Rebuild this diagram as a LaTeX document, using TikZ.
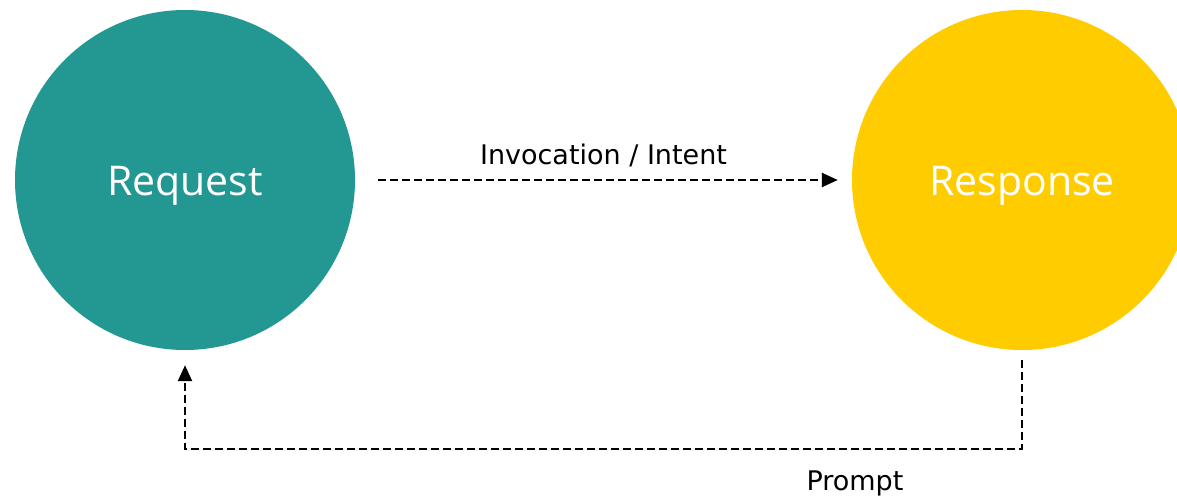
\documentclass[tikz,border=0pt]{standalone}
\usepackage{fontspec}
\setmainfont{DejaVu Sans}
\newfontfamily\circlefont{Open Sans}
\usetikzlibrary{arrows.meta}
\definecolor{reqteal}{HTML}{239893}
\definecolor{respyellow}{HTML}{FFCC00}
\tikzset{
  stage/.style={circle, minimum size=340pt, inner sep=0pt, draw=none,
    text=white, font=\circlefont\fontsize{41}{48}\selectfont},
  stagetext/.style={text=white, font=\circlefont\fontsize{41}{48}\selectfont,
    anchor=base, inner sep=0pt},
  flow/.style={line width=2.4pt, dash pattern=on 8pt off 4pt,
    -{Triangle[length=16pt,width=14pt]}},
  flowlabel/.style={font=\fontsize{27}{32}\selectfont, text=black, inner sep=0pt},
}
\begin{document}
\begin{tikzpicture}[x=1pt, y=-1pt]
  \useasboundingbox (0,0) rectangle (1177,503);
  \clip (0,0) rectangle (1177,503);
  \fill[white] (0,0) rectangle (1177,503);

  % the two stages
  \node[stage, fill=reqteal] (req) at (185,180) {};
  \node[stage, fill=respyellow] (resp) at (1022,180) {};
  \node[stagetext] (reqtext) at ([yshift=-15pt]req.center) {Request};
  \node[stagetext] (resptext) at ([yshift=-15pt]resp.center) {Response};

  % forward call
  \draw[flow, shorten <=23pt, shorten >=14pt] (req.east) -- (resp.west)
    node[flowlabel, midway, above=12pt] {Invocation / Intent};

  % feedback loop
  \draw[flow, shorten <=10pt, shorten >=15pt] (resp.south) -- ++(0,99) -| (req.south);
  \node[flowlabel] (prompt) at (855,483) {Prompt};
\end{tikzpicture}
\end{document}
